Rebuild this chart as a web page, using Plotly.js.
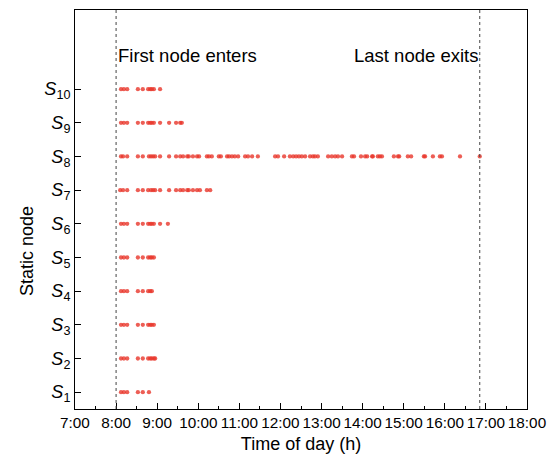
<!DOCTYPE html>
<html>
<head>
<meta charset="utf-8">
<script src="https://cdn.plot.ly/plotly-3.0.1.min.js"></script>
<style>html,body{margin:0;padding:0;background:#fff;}#chart{width:556px;height:464px;}</style>
</head>
<body>
<div id="chart"></div>
<script>
// Visit times (decimal hours) for each static node
const s1 = [8.12, 8.19, 8.27, 8.53, 8.65, 8.80];
const s2 = [8.12, 8.19, 8.27, 8.53, 8.65, 8.78, 8.83, 8.87, 8.92, 8.95];
const s3 = [8.12, 8.19, 8.27, 8.53, 8.65, 8.78, 8.83, 8.87, 8.92];
const s4 = [8.12, 8.19, 8.27, 8.53, 8.65, 8.78, 8.83, 8.87];
const s5 = [8.12, 8.19, 8.27, 8.53, 8.65, 8.78, 8.83, 8.87, 8.92];
const s6 = [8.12, 8.19, 8.27, 8.53, 8.65, 8.78, 8.83, 8.87, 8.92, 9.07, 9.26];
const s7 = [8.10, 8.17, 8.27, 8.53, 8.65, 8.78, 8.85, 8.90, 8.95, 9.07, 9.29, 9.46, 9.56, 9.63, 9.73, 9.77, 9.87, 9.97, 10.04, 10.21, 10.29];
const s8 = [8.12, 8.17, 8.27, 8.53, 8.65, 8.80, 8.85, 8.90, 8.95, 9.07, 9.29, 9.46, 9.56, 9.63, 9.73, 9.77, 9.87, 9.97, 10.02,
            10.21, 10.26, 10.33, 10.50, 10.55, 10.70, 10.75, 10.82, 10.89, 10.97, 11.14, 11.21, 11.31, 11.45,
            11.87, 11.94, 12.09, 12.23, 12.31, 12.38, 12.45, 12.52, 12.60, 12.72, 12.79, 12.84, 12.91,
            13.16, 13.25, 13.33, 13.40, 13.50, 13.74, 13.79, 13.96, 14.06, 14.11, 14.23, 14.25, 14.37, 14.42, 14.47,
            14.76, 14.86, 14.89, 15.10, 15.18, 15.49, 15.52, 15.71, 15.88, 15.93, 16.37, 16.85];
const s9 = [8.12, 8.19, 8.27, 8.53, 8.65, 8.78, 8.83, 8.87, 8.92, 9.07, 9.29, 9.46, 9.56, 9.60];
const s10 = [8.12, 8.19, 8.27, 8.53, 8.65, 8.78, 8.83, 8.87, 8.92, 9.07];

const nodeSeries = [s1, s2, s3, s4, s5, s6, s7, s8, s9, s10];
const nodeIndex = [1, 2, 3, 4, 5, 6, 7, 8, 9, 10];
const nodeLabels = nodeIndex.map(i => '<i>S</i><sub>' + i + '</sub>');

const hourTicks = [7, 8, 9, 10, 11, 12, 13, 14, 15, 16, 17, 18];
const hourLabels = hourTicks.map(h => h + ':00');

const firstEnter = 8.0;
const lastExit = 16.85;

const traces = nodeSeries.map((xs, k) => ({
  type: 'scatter',
  mode: 'markers',
  x: xs,
  y: xs.map(() => nodeIndex[k]),
  marker: {size: 4.3, color: '#e8362a', opacity: 0.8},
  showlegend: false,
  hoverinfo: 'x+y'
}));

const font = 'Liberation Sans, Arial, sans-serif';

const layout = {
  width: 556, height: 464,
  margin: {l: 75, r: 29, t: 10, b: 55},
  paper_bgcolor: '#fff', plot_bgcolor: '#fff',
  font: {family: font, color: '#000', size: 15},
  xaxis: {
    range: [7, 18], tickvals: hourTicks, ticktext: hourLabels, tickangle: 0,
    ticks: 'inside', ticklen: 6, tickwidth: 1, tickcolor: '#000',
    minor: {dtick: 0.5, tick0: 7, ticks: 'inside', ticklen: 3, tickcolor: '#000', showgrid: false},
    showline: true, linecolor: '#000', linewidth: 1, mirror: true,
    showgrid: false, zeroline: false,
    tickfont: {family: font, size: 15.3, color: '#000'},
    title: {text: 'Time of day (h)', font: {family: font, size: 18, color: '#000'}, standoff: 7}
  },
  yaxis: {
    range: [0.5, 12.35], tickvals: nodeIndex, ticktext: nodeLabels,
    ticks: 'inside', ticklen: 6, tickwidth: 1, tickcolor: '#000',
    showline: true, linecolor: '#000', linewidth: 1, mirror: true,
    showgrid: false, zeroline: false,
    tickfont: {family: font, size: 18, color: '#000'}
  },
  shapes: [firstEnter, lastExit].map(xv => ({
    type: 'line', xref: 'x', yref: 'paper', x0: xv, x1: xv, y0: 0, y1: 1,
    line: {color: '#444', width: 1, dash: 'dot'}
  })),
  annotations: [
    {x: firstEnter, y: 11, xref: 'x', yref: 'y', text: 'First node enters', showarrow: false,
     xanchor: 'left', yanchor: 'middle', xshift: 0, font: {family: font, size: 18.5, color: '#000'}},
    {x: lastExit, y: 11, xref: 'x', yref: 'y', text: 'Last node exits', showarrow: false,
     xanchor: 'right', yanchor: 'middle', xshift: 0, font: {family: font, size: 18.5, color: '#000'}},
    {x: -0.106, y: 0.396, xref: 'paper', yref: 'paper', text: 'Static node', showarrow: false,
     textangle: -90, xanchor: 'center', yanchor: 'middle', font: {family: font, size: 18, color: '#000'}}
  ]
};

Plotly.newPlot('chart', traces, layout, {displayModeBar: false, staticPlot: true});
</script>
</body>
</html>
